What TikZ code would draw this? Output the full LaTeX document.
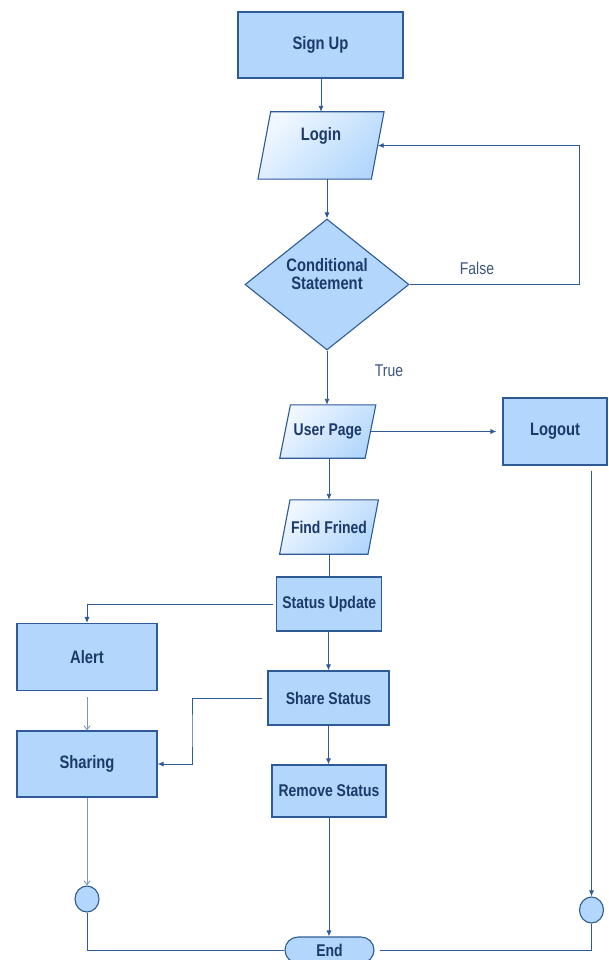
\documentclass[tikz,border=0pt]{standalone}
\usepackage{fontspec}
\newfontfamily\lab[FakeStretch=0.82]{Liberation Sans}
\usetikzlibrary{shapes.geometric,shapes.misc,arrows.meta,backgrounds}
\definecolor{boxfill}{RGB}{179,215,252}
\definecolor{boxlite}{RGB}{240,247,255}
\definecolor{boxline}{RGB}{46,90,150}
\definecolor{txt}{RGB}{28,58,105}
\definecolor{litearr}{RGB}{120,150,190}
\definecolor{lbl}{RGB}{60,85,125}
\tikzset{
  base/.style={draw=boxline, line width=1.1pt, text=txt, font=\lab\bfseries\fontsize{17}{19}\selectfont, inner sep=2pt, align=center},
  box/.style={base, rectangle, fill=boxfill},
  para/.style={rectangle, text=txt, font=\lab\bfseries\fontsize{17}{19}\selectfont, inner sep=2pt, align=center},
  parashape/.style={draw=boxline, line width=1.1pt, top color=boxlite, bottom color=boxfill, shading angle=45},
  dia/.style={base, diamond, fill=boxfill, aspect=1.25},
  conn/.style={base, ellipse, fill=boxfill, minimum width=24pt, minimum height=26pt},
  term/.style={base, rounded rectangle, fill=boxfill, minimum width=93pt, minimum height=26pt},
  line/.style={draw=boxline, line width=0.9pt},
  arr/.style={line, -{Latex[length=6pt,width=5pt]}},
  larr/.style={draw=litearr, line width=0.9pt, -{Straight Barb[length=4pt,width=6pt]}},
  note/.style={text=lbl, font=\lab\fontsize{17}{19}\selectfont, inner sep=0pt}
}
\newcommand\paraoutline[2]{%
  \path[parashape] ([xshift=#2]#1.north west) -- ([xshift=#2]#1.north east)
     -- ([xshift=-#2]#1.south east) -- ([xshift=-#2]#1.south west) -- cycle;}
\begin{document}
\begin{tikzpicture}[x=1pt,y=-1pt]
\begin{scope}[on background layer]
\fill[white] (0,0) rectangle (609,960);
\end{scope}
\useasboundingbox (0,0) rectangle (609,960);
% nodes
\node[box, minimum width=165pt, minimum height=66pt, font=\lab\bfseries\fontsize{18}{20}\selectfont] (signup) at (320.5,45) {Sign Up};
\node[para, minimum width=113pt, minimum height=67pt] (login) at (321,145.5) {};
\node[text=txt, font=\lab\bfseries\fontsize{18}{20}\selectfont, inner sep=0pt] (logintxt) at (321,136) {Login};
\node[dia, minimum width=164pt, minimum height=131pt] (cond) at (327,284.5) {\strut};
\node[text=txt, font=\lab\bfseries\fontsize{18}{18}\selectfont, align=center, inner sep=0pt] (condtxt) at (327,274.5) {Conditional\\Statement};
\node[para, minimum width=85pt, minimum height=53pt] (user) at (327.8,431.5) {User Page};
\node[box, minimum width=104pt, minimum height=67pt, font=\lab\bfseries\fontsize{18}{20}\selectfont] (logout) at (555,431.5) {Logout};
\node[para, minimum width=88pt, minimum height=54pt] (find) at (329,527) {Find Frined};
\node[box, minimum width=105pt, minimum height=54pt] (status) at (329.3,604) {Status Update};
\node[box, minimum width=140pt, minimum height=67pt, font=\lab\bfseries\fontsize{18}{20}\selectfont] (alert) at (87,657) {Alert};
\node[box, minimum width=121pt, minimum height=54pt] (share) at (328.5,698) {Share Status};
\node[box, minimum width=140pt, minimum height=66pt, font=\lab\bfseries\fontsize{18}{20}\selectfont] (sharing) at (87,764) {Sharing};
\node[box, minimum width=114pt, minimum height=52pt] (remove) at (329,791) {Remove Status};
\node[conn] (lc) at (87,899) {};
\node[conn] (rc) at (591.5,910) {};
\node[term] (end) at (329.5,950) {End};
\node[note] (false) at (477,268) {False};
\node[note] (true) at (389,371) {True};
\coordinate (fc) at (579,200);
\coordinate (jc) at (192,730);
% parallelogram outlines behind their texts
\begin{scope}[on background layer]
\paraoutline{login}{6.35pt}
\paraoutline{user}{5.35pt}
\paraoutline{find}{5.2pt}
\end{scope}
% connectors
\draw[arr] (signup.south -| login.north) -- (login.north);
\draw[arr] (login.south -| cond.north) -- (cond.north);
\draw[arr] (cond.east) -- (cond.east -| fc) |- (login.east);
\draw[arr] (cond.south) -- (user.north -| cond.south);
\draw[arr, shorten >=6pt] (user.east) -- (logout.west);
\draw[arr, shorten <=5pt] (logout.south -| rc.north) -- (rc.north);
\draw[arr] (user.south -| find.north) -- (find.north);
\draw[line] (find.south) -- (status.north -| find.south);
\draw[arr, shorten <=3pt] (status.west) -| (alert.north);
\draw[arr] (status.south -| share.north) -- (share.north);
\draw[arr, shorten <=5pt] (share.west) -| (jc) |- (sharing.east);
\draw[larr, shorten <=6pt] (alert.south) -- (sharing.north);
\draw[arr] (share.south) -- (remove.north -| share.south);
\draw[larr] (sharing.south) -- (lc.north);
\draw[arr] (remove.south) -- (end.north -| remove.south);
\draw[line] (lc.south) |- (end.west);
\draw[line, shorten >=5pt] (rc.south) |- (end.east);
\end{tikzpicture}
\end{document}
